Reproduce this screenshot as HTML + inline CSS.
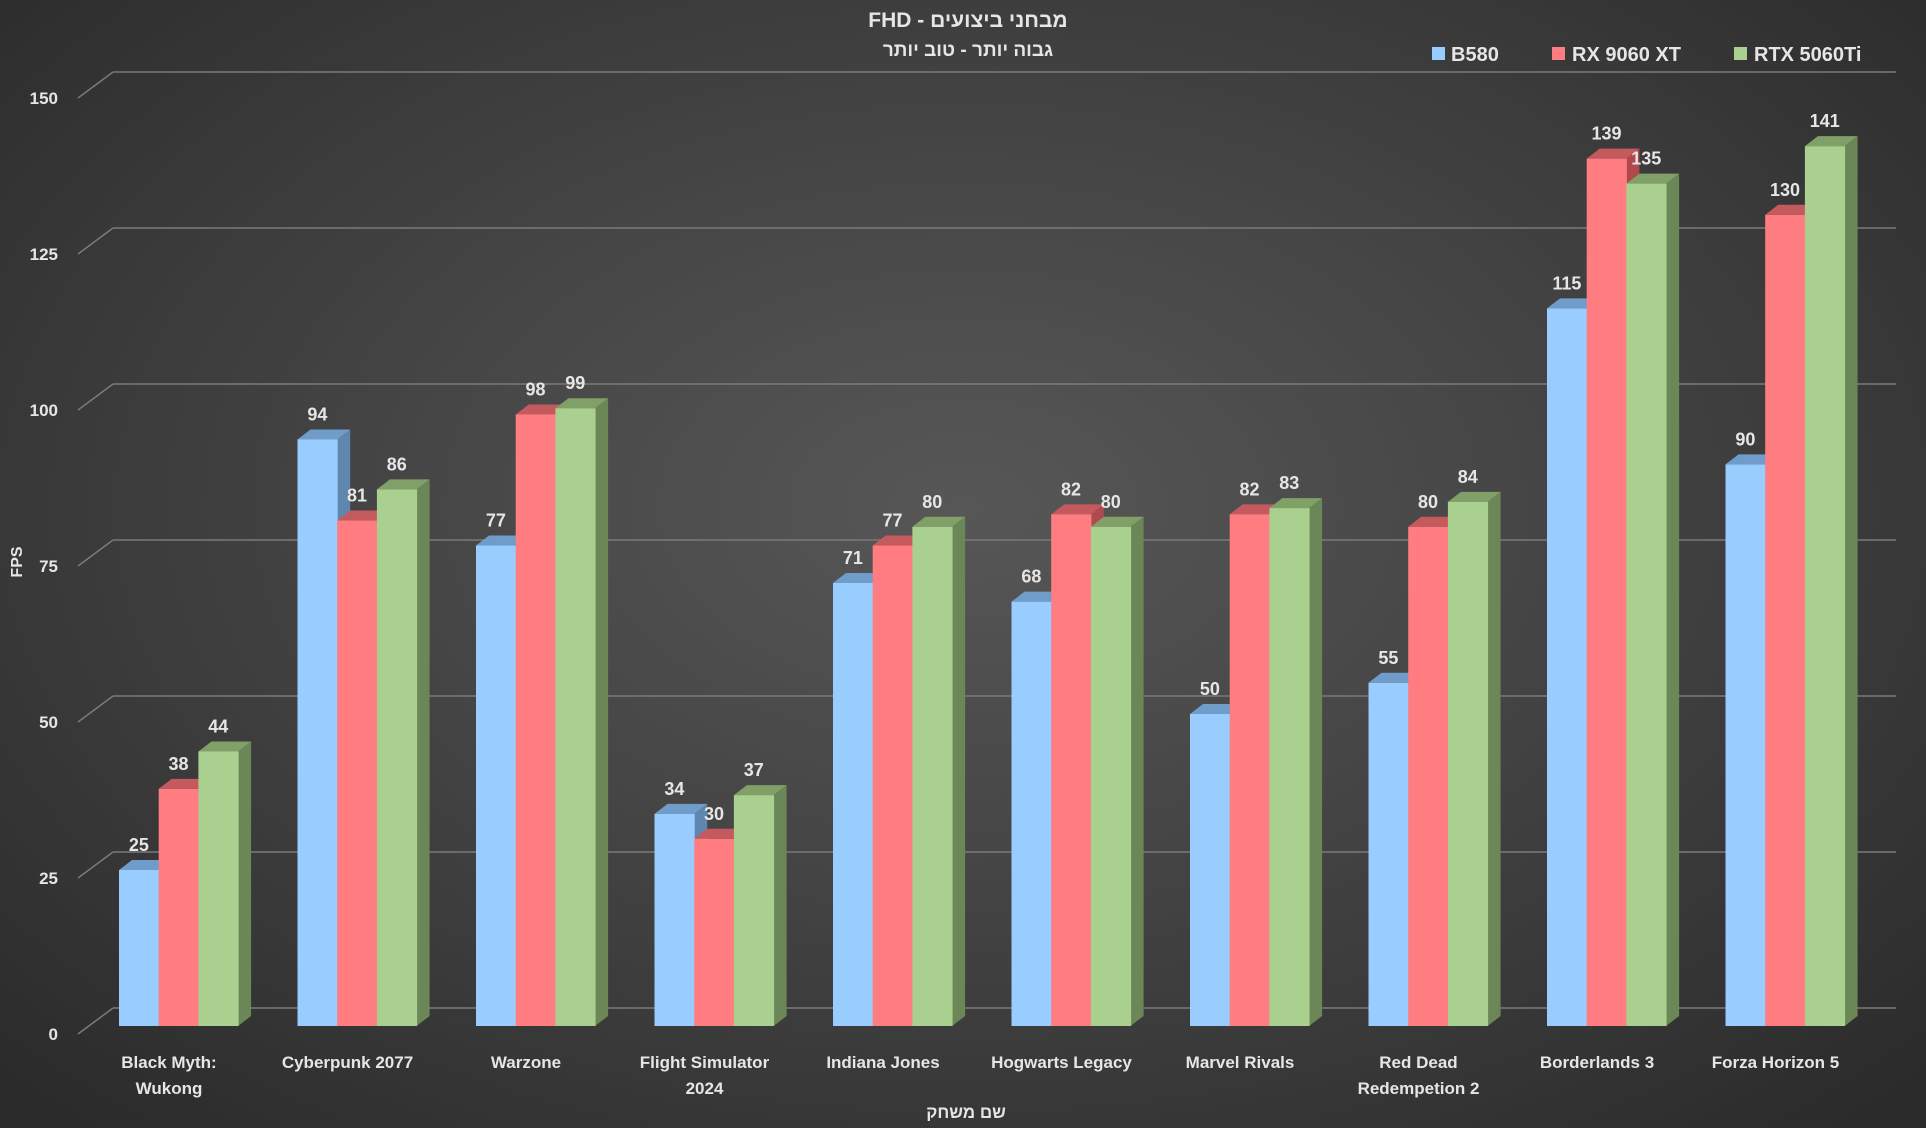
<!DOCTYPE html>
<html><head><meta charset="utf-8">
<style>
html,body{margin:0;padding:0;width:1926px;height:1128px;overflow:hidden;}
body{background:radial-gradient(ellipse 70% 75% at 50% 45%, #575757 0%, #444 45%, #2a2a2a 100%);}
svg{position:absolute;left:0;top:0;}
text{font-family:"Liberation Sans","DejaVu Sans",sans-serif;font-weight:bold;fill:#e6e6e6;}
</style></head><body>
<svg id="s" width="1926" height="1128" xmlns="http://www.w3.org/2000/svg">
<text x="968" y="27" font-size="21" text-anchor="middle" direction="rtl">מבחני ביצועים - FHD</text>
<text x="968" y="56" font-size="19" text-anchor="middle" direction="rtl">גבוה יותר - טוב יותר</text>
<rect x="1432" y="47" width="13" height="13" fill="#99ccff"/><text x="1451" y="61" font-size="20">B580</text>
<rect x="1552" y="47" width="13" height="13" fill="#ff7c80"/><text x="1572" y="61" font-size="20">RX 9060 XT</text>
<rect x="1734" y="47" width="13" height="13" fill="#a9d08e"/><text x="1754" y="61" font-size="20">RTX 5060Ti</text>
<text transform="translate(22,562) rotate(-90)" font-size="16" text-anchor="middle">FPS</text>
<text x="966" y="1118" font-size="17" text-anchor="middle" direction="rtl">שם משחק</text>
<g id="g"></g>
</svg>
<script>
var g=document.getElementById('g'),h='';
var k=6.24;
for(var v=0;v<=150;v+=25){
 var yb=1008-v*k;
 h+='<line x1="113" y1="'+yb+'" x2="1896" y2="'+yb+'" stroke="#7a7a7a" stroke-width="1.5"/>';
 h+='<line x1="78" y1="'+(yb+26)+'" x2="113" y2="'+yb+'" stroke="#7a7a7a" stroke-width="1.5"/>';
 h+='<text x="58" y="'+(yb+32)+'" font-size="17" text-anchor="end">'+v+'</text>';
}
var cats=[["Black Myth:","Wukong"],["Cyberpunk 2077"],["Warzone"],["Flight Simulator","2024"],["Indiana Jones"],["Hogwarts Legacy"],["Marvel Rivals"],["Red Dead","Redempetion 2"],["Borderlands 3"],["Forza Horizon 5"]];
var d=[[25,38,44],[94,81,86],[77,98,99],[34,30,37],[71,77,80],[68,82,80],[50,82,83],[55,80,84],[115,139,135],[90,130,141]];
var fc=['#99ccff','#ff7c80','#a9d08e'],tc=['#6f9cc8','#c55a5e','#80a068'],sc=['#5f86ad','#b0494d','#6b8657'];
var w=39.7,dx=13,dy=10,base=1026;
for(var i=0;i<10;i++){
 var x0=119+i*178.5;
 for(var j=0;j<3;j++){
  var x=x0+j*w,y=base-d[i][j]*k;
  h+='<polygon points="'+(x+w)+','+y+' '+(x+w+dx)+','+(y-dy)+' '+(x+w+dx)+','+(base-dy)+' '+(x+w)+','+base+'" fill="'+sc[j]+'"/>';
  h+='<polygon points="'+x+','+y+' '+(x+dx)+','+(y-dy)+' '+(x+w+dx)+','+(y-dy)+' '+(x+w)+','+y+'" fill="'+tc[j]+'"/>';
  h+='<rect x="'+x+'" y="'+y+'" width="'+(w+0.5)+'" height="'+(base-y)+'" fill="'+fc[j]+'"/>';
 }
 for(var j=0;j<3;j++){
  var x=x0+j*w,y=base-d[i][j]*k;
  h+='<text x="'+(x+w/2)+'" y="'+(y-19)+'" font-size="18" text-anchor="middle">'+d[i][j]+'</text>';
 }
 var cx=x0+50;
 for(var l=0;l<cats[i].length;l++)
  h+='<text x="'+cx+'" y="'+(1068+l*26)+'" font-size="17" text-anchor="middle">'+cats[i][l]+'</text>';
}
g.innerHTML=h;
</script>
</body></html>
